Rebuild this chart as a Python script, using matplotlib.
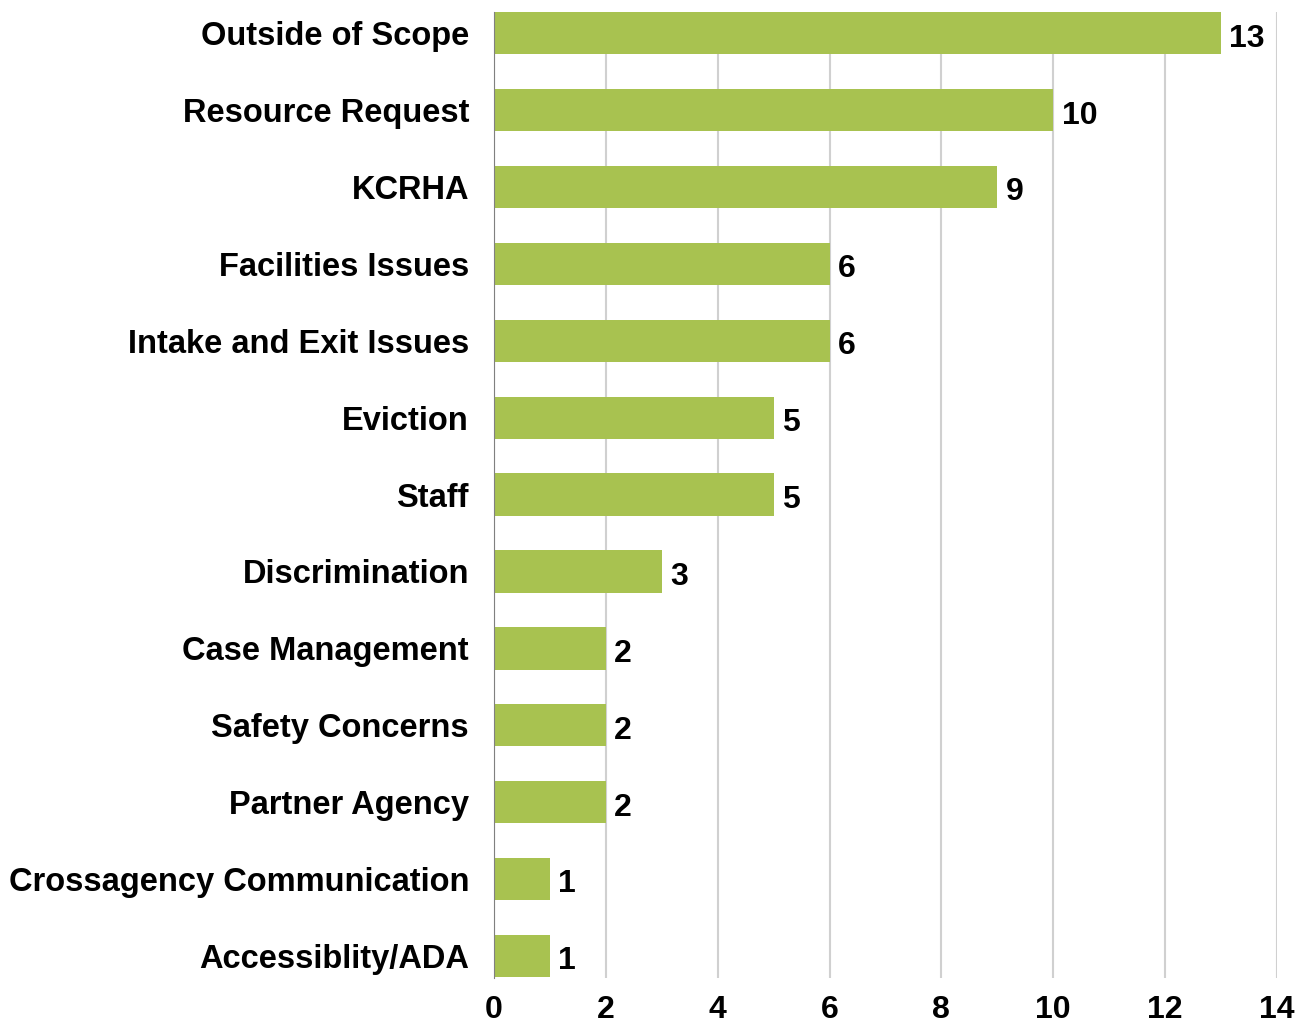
import matplotlib
matplotlib.use("Agg")
import matplotlib.pyplot as plt
import numpy as np

plt.rcParams['font.family'] = ['Liberation Sans', 'DejaVu Sans']

# categories from top to bottom
categorias = ["Outside of Scope", "Resource Request", "KCRHA", "Facilities Issues",
              "Intake and Exit Issues", "Eviction", "Staff", "Discrimination",
              "Case Management", "Safety Concerns", "Partner Agency",
              "Crossagency Communication", "Accessiblity/ADA"]
valores = [13, 10, 9, 6, 6, 5, 5, 3, 2, 2, 2, 1, 1]
xticks = [0, 2, 4, 6, 8, 10, 12, 14]

fig = plt.figure(figsize=(13.07, 10.24), dpi=100)
ax = fig.add_axes([0.378, 0.045, 0.599, 0.943])

n = len(categorias)
y = np.arange(n)[::-1]
ax.barh(y, valores, height=0.55, color="#A8C250", zorder=3)
for yi, v in zip(y, valores):
    ax.text(v + 0.15, yi - 0.07, str(v), va="center", ha="left",
            fontsize=23, fontweight="bold")

ax.set_yticks(y)
ax.set_yticklabels(categorias, fontsize=23.5, fontweight="bold")
ax.set_xticks(xticks)
ax.set_xticklabels([str(t) for t in xticks], fontsize=23, fontweight="bold")
ax.set_xlim(0, 14)
ax.set_ylim(-0.286, 12.273)
ax.tick_params(axis="y", length=0, pad=18)
ax.tick_params(axis="x", length=0, pad=12)
ax.grid(axis="x", color="#D0D0D0", linewidth=1.5, zorder=0)
for s in ["top", "right", "bottom"]:
    ax.spines[s].set_visible(False)
ax.spines["left"].set_color("#808080")
ax.spines["left"].set_zorder(4)

fig.savefig("out.png", dpi=100)
